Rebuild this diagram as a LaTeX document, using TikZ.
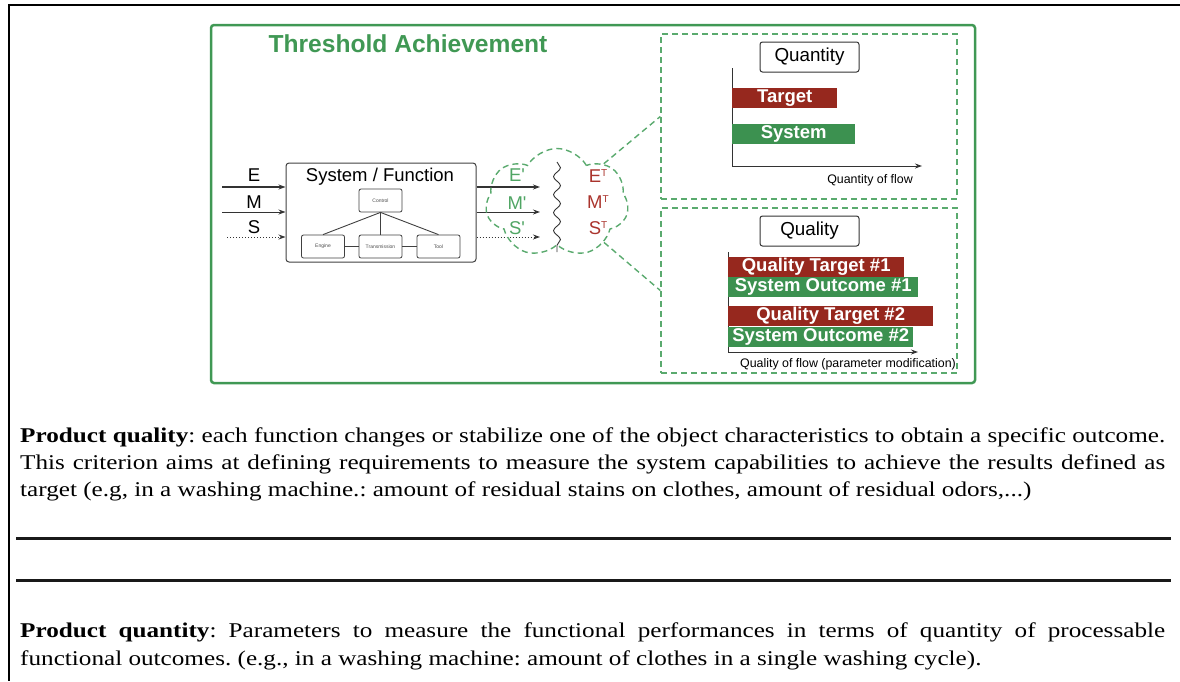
\documentclass[tikz,border=0pt]{standalone}
\usepackage{graphicx}
\usepackage{fontspec}
\setmainfont{Liberation Serif}[FakeStretch=1.08]
\setsansfont{Liberation Sans}
\usetikzlibrary{shapes.symbols,decorations.pathmorphing,arrows.meta}
\definecolor{tgreen}{RGB}{64,152,84}
\definecolor{dgreen}{RGB}{90,170,110}
\definecolor{lgreen}{RGB}{80,165,100}
\definecolor{bargreen}{RGB}{60,145,80}
\definecolor{barred}{RGB}{150,40,30}
\definecolor{tred}{RGB}{170,52,45}
\frenchspacing
\newcommand{\wideline}[1]{\scalebox{1.11}[1]{#1}}
\newcommand{\justline}[1]{\scalebox{1.11}[1]{\makebox[1031.5pt][s]{#1}}}
\newcommand{\smallT}{\raisebox{6pt}{\fontsize{10}{10}\selectfont T}}
\begin{document}
\begin{tikzpicture}[x=1pt,y=-1pt,
  outerframe/.style={draw=tgreen, line width=2.5pt, rounded corners=3pt, minimum width=764pt, minimum height=358pt, inner sep=0},
  dashframe/.style={draw=dgreen, line width=1.4pt, dash pattern=on 6pt off 4pt},
  panel/.style={dashframe, minimum width=296pt, minimum height=165pt, inner sep=0},
  labelbox/.style={draw=black!80, line width=1pt, rounded corners=2.5pt, font=\sffamily\fontsize{18.8}{20}\selectfont, inner sep=0, minimum width=99pt, minimum height=30pt},
  bar/.style={inner sep=0, anchor=north west, text=white, font=\sffamily\bfseries\fontsize{18.5}{20}\selectfont, minimum height=20pt},
  redbar/.style={bar, fill=barred},
  greenbar/.style={bar, fill=bargreen},
  sub/.style={draw=black!75, line width=0.8pt, rounded corners=2pt, minimum width=43pt, minimum height=23pt, inner sep=0, font=\sffamily\fontsize{5}{6}\selectfont, text=black!70},
  lbl/.style={font=\sffamily\fontsize{18.5}{20}\selectfont, inner sep=0},
  small/.style={font=\sffamily\fontsize{12.4}{14}\selectfont, inner sep=0},
  arr/.style={-{Stealth[length=7pt,width=5pt]}, draw=black!80},
  body/.style={font=\fontsize{21}{26}\selectfont, inner sep=0, anchor=base west},
  rule/.style={line width=3pt, draw=black!90}
]
\useasboundingbox (0,0) rectangle (1180,681);
% outer page frame
\coordinate (tl) at (9,5);
\coordinate (tr) at (1180,5);
\coordinate (bl) at (9,681);
\draw[line width=2pt] (tr) -- (tl) -- (bl);

% green frame
\node[outerframe] (frame) at (593,204) {};
\node[font=\sffamily\bfseries\fontsize{24.6}{26}\selectfont, text=tgreen, inner sep=0] (title) at (408,44) {Threshold Achievement};

% panels
\node[panel] (qtyframe) at (809,116.5) {};
\node[panel] (qualframe) at (809,290.5) {};
\node[labelbox] (qtybox) at (809.5,57) {Quantity};
\node[labelbox] (qualbox) at (809.5,231) {Quality};

% quantity chart
\coordinate (qtop) at (732,68);
\coordinate (qorig) at (732,166);
\coordinate (qend) at (922,166);
\draw[arr, line width=0.9pt] (qtop) -- (qorig) -- (qend);
\node[redbar, minimum width=105pt] (target) at (732,88) {Target};
\node[greenbar, minimum width=123pt] (system) at (732,124) {System};
\node[small] (qflow) at (870,180) {Quantity of flow};

% quality chart
\coordinate (ltop) at (728,252);
\coordinate (lorig) at (728,352);
\coordinate (lend) at (918,352);
\draw[arr, line width=0.9pt] (ltop) -- (lorig) -- (lend);
\node[redbar, minimum width=176pt] (qt1) at (728,257) {Quality Target \#1};
\node[greenbar, minimum width=190pt] (so1) at (728,277) {System Outcome \#1};
\node[redbar, minimum width=205pt] (qt2) at (728,306) {Quality Target \#2};
\node[greenbar, minimum width=185pt] (so2) at (728,327) {System Outcome \#2};
\node[small] (lflow) at (848,364) {Quality of flow (parameter modification)};

% system box
\node[draw=black!75, line width=1pt, rounded corners=3pt, minimum width=190pt, minimum height=99pt, inner sep=0] (sysbox) at (381,212.5) {};
\node[lbl] (systitle) at (380,177) {System / Function};
\node[sub] (control) at (380.5,200.5) {Control};
\node[sub] (engine) at (323,246.5) {Engine};
\node[sub] (trans) at (380.5,246.5) {Transmission};
\node[sub] (tool) at (438.5,246.5) {Tool};
\draw[black!75, line width=0.9pt] (control.south) -- (engine.north);
\draw[black!75, line width=0.9pt] (control.south) -- (tool.north);
\draw[black!75, line width=0.9pt] (control.south) -- (trans.north);
\draw[black!75, line width=0.9pt] (engine) -- (trans);
\draw[black!75, line width=0.9pt] (trans) -- (tool);

% inputs
\coordinate (ein) at (222,187);
\coordinate (min) at (222,212);
\coordinate (sin) at (227,237);
\draw[arr, line width=1.5pt] (ein) -- (ein -| sysbox.west);
\draw[arr, line width=0.9pt] (min) -- (min -| sysbox.west);
\draw[arr, line width=1pt, dotted] (sin) -- (sin -| sysbox.west);
\node[lbl] (E) at (254,175) {E};
\node[lbl] (M) at (254,202) {M};
\node[lbl] (S) at (254,227) {S};

% outputs
\coordinate (eout) at (540,187);
\coordinate (mout) at (540,212);
\coordinate (sout) at (540,237);
\draw[arr, line width=1.5pt] (eout -| sysbox.east) -- (eout);
\draw[arr, line width=0.9pt] (mout -| sysbox.east) -- (mout);
\draw[arr, line width=1pt, dotted] (sout -| sysbox.east) -- (sout);

% cloud
\node[cloud, dashframe, cloud puffs=7, cloud puff arc=120, aspect=1.25, minimum width=143pt, minimum height=109pt, inner sep=0] (cl) at (557,203) {};
\node[lbl, text=lgreen] (Ep) at (517,175) {E\textquotesingle};
\node[lbl, text=lgreen] (Mp) at (517,203) {M\textquotesingle};
\node[lbl, text=lgreen] (Sp) at (517,228) {S\textquotesingle};
\coordinate (wtop) at (557,162);
\coordinate (wbot) at (557,252);
\draw[black!80, line width=0.9pt, decorate, decoration={snake, segment length=18pt, amplitude=3.5pt}] (wtop) -- (wbot);
\node[lbl, text=tred] (ET) at (598,176) {E\smallT};
\node[lbl, text=tred] (MT) at (598,202) {M\smallT};
\node[lbl, text=tred] (ST) at (598,228) {S\smallT};

% zoom connectors
\draw[dashframe] (cl.40) -- (qtyframe.west);
\draw[dashframe] (cl.-40) -- (qualframe.west);

% text
\node[body] (p1a) at (20,442) {\justline{\textbf{Product quality}: each function changes or stabilize one of the object characteristics to obtain a specific outcome.}};
\node[body] (p1b) at (20,469) {\justline{This criterion aims at defining requirements to measure the system capabilities to achieve the results defined as}};
\node[body] (p1c) at (20,496) {\wideline{target (e.g, in a washing machine.: amount of residual stains on clothes, amount of residual odors,...)}};
\coordinate (r1a) at (16,538);
\coordinate (r1b) at (1171,538);
\coordinate (r2a) at (16,580);
\coordinate (r2b) at (1171,580);
\draw[rule] (r1a) -- (r1b);
\draw[rule] (r2a) -- (r2b);
\node[body] (p2a) at (20,637) {\justline{\textbf{Product quantity}: Parameters to measure the functional performances in terms of quantity of processable}};
\node[body] (p2b) at (20,665) {\wideline{functional outcomes. (e.g., in a washing machine: amount of clothes in a single washing cycle).}};
\end{tikzpicture}
\end{document}
